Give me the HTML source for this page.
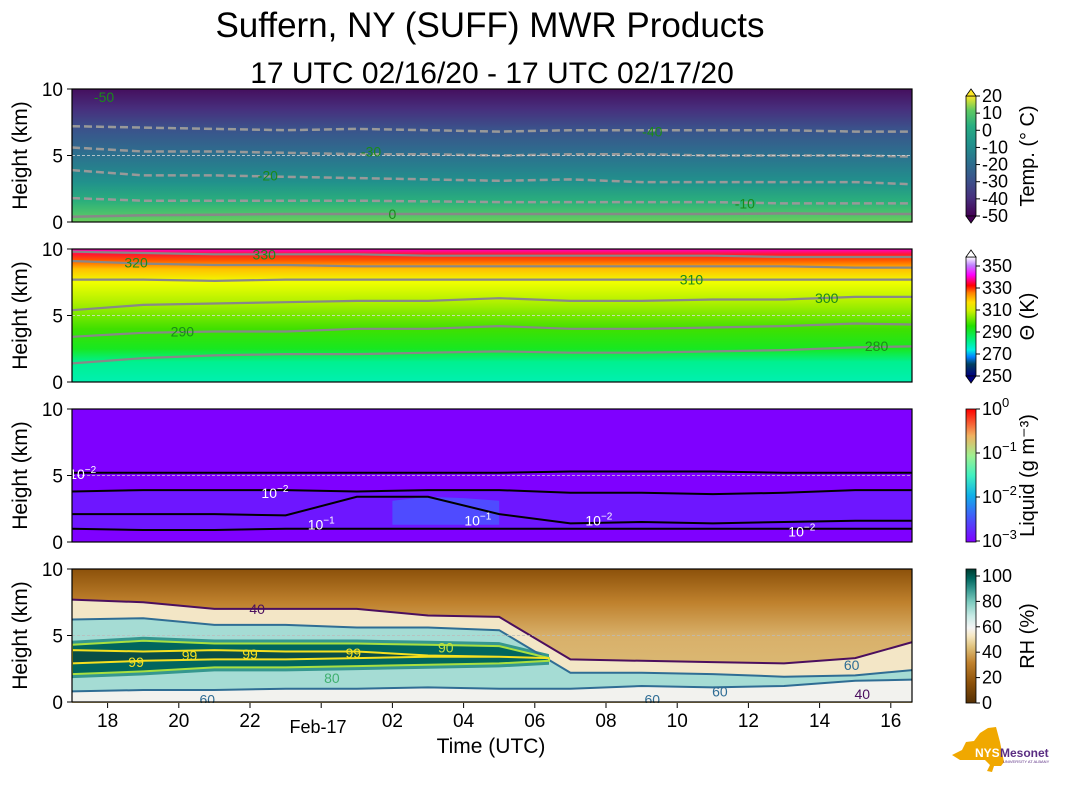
<!DOCTYPE html>
<html><head><meta charset="utf-8">
<style>
html,body{margin:0;padding:0;background:#fff;}
svg{display:block;font-family:"Liberation Sans","DejaVu Sans",sans-serif;}
</style></head>
<body>
<svg id="fig" width="1066" height="806" viewBox="0 0 1066 806" xmlns="http://www.w3.org/2000/svg">
<defs>
<linearGradient id="gTemp" x1="0" y1="1" x2="0" y2="0">
<stop offset="0" stop-color="#6ccd5a"/><stop offset="0.06" stop-color="#4ec36b"/><stop offset="0.16" stop-color="#2aae7c"/>
<stop offset="0.3" stop-color="#21918c"/><stop offset="0.5" stop-color="#2c718e"/><stop offset="0.7" stop-color="#3b528b"/>
<stop offset="0.85" stop-color="#472f7d"/><stop offset="1" stop-color="#450f5e"/></linearGradient>
<linearGradient id="gTheta" x1="0" y1="1" x2="0" y2="0">
<stop offset="0" stop-color="#00f0b0"/><stop offset="0.15" stop-color="#00f090"/><stop offset="0.25" stop-color="#18e820"/>
<stop offset="0.4" stop-color="#40e000"/><stop offset="0.6" stop-color="#b0f000"/><stop offset="0.75" stop-color="#f0ff00"/>
<stop offset="0.85" stop-color="#ffc000"/><stop offset="0.92" stop-color="#ff5000"/><stop offset="0.96" stop-color="#ff1830"/><stop offset="1" stop-color="#ff00d0"/></linearGradient>
<linearGradient id="gRH" x1="0" y1="1" x2="0" y2="0">
<stop offset="0" stop-color="#dfc27d"/><stop offset="0.5" stop-color="#d8b06a"/><stop offset="0.75" stop-color="#bf812d"/><stop offset="1" stop-color="#8c510a"/></linearGradient>
<linearGradient id="cbTemp" x1="0" y1="1" x2="0" y2="0">
<stop offset="0" stop-color="#440154"/><stop offset="0.15" stop-color="#472f7d"/><stop offset="0.3" stop-color="#3b528b"/><stop offset="0.45" stop-color="#2c718e"/>
<stop offset="0.6" stop-color="#21918c"/><stop offset="0.75" stop-color="#27ad81"/><stop offset="0.88" stop-color="#5ec962"/><stop offset="1" stop-color="#fde725"/></linearGradient>
<linearGradient id="cbTheta" x1="0" y1="1" x2="0" y2="0">
<stop offset="0" stop-color="#000080"/><stop offset="0.1" stop-color="#004060"/><stop offset="0.16" stop-color="#0080ff"/><stop offset="0.22" stop-color="#00f0e0"/>
<stop offset="0.3" stop-color="#00f080"/><stop offset="0.42" stop-color="#20e000"/><stop offset="0.55" stop-color="#d0f000"/><stop offset="0.62" stop-color="#ffe000"/>
<stop offset="0.7" stop-color="#ff8000"/><stop offset="0.76" stop-color="#ff0000"/><stop offset="0.85" stop-color="#ff00ff"/><stop offset="0.93" stop-color="#c080ff"/><stop offset="1" stop-color="#ffffff"/></linearGradient>
<linearGradient id="cbLiq" x1="0" y1="1" x2="0" y2="0">
<stop offset="0" stop-color="#8000ff"/><stop offset="0.2" stop-color="#4060f8"/><stop offset="0.35" stop-color="#10b0e8"/><stop offset="0.5" stop-color="#40f0c0"/>
<stop offset="0.65" stop-color="#a0f090"/><stop offset="0.8" stop-color="#f0b060"/><stop offset="1" stop-color="#ff0000"/></linearGradient>
<linearGradient id="cbRH" x1="0" y1="1" x2="0" y2="0">
<stop offset="0" stop-color="#543005"/><stop offset="0.15" stop-color="#8c510a"/><stop offset="0.3" stop-color="#bf812d"/><stop offset="0.42" stop-color="#dfc27d"/>
<stop offset="0.5" stop-color="#f6e8c3"/><stop offset="0.56" stop-color="#f5f5f5"/><stop offset="0.65" stop-color="#c7eae5"/><stop offset="0.75" stop-color="#80cdc1"/>
<stop offset="0.85" stop-color="#35978f"/><stop offset="0.93" stop-color="#01665e"/><stop offset="1" stop-color="#003c30"/></linearGradient>
<clipPath id="c0"><rect x="72" y="89" width="840" height="133"/></clipPath>
<clipPath id="c1"><rect x="72" y="249" width="840" height="133"/></clipPath>
<clipPath id="c2"><rect x="72" y="409" width="840" height="133"/></clipPath>
<clipPath id="c3"><rect x="72" y="569" width="840" height="134"/></clipPath>
</defs>
<text x="490" y="37" font-size="35" text-anchor="middle">Suffern, NY (SUFF) MWR Products</text>
<text x="492" y="83" font-size="30" text-anchor="middle">17 UTC 02/16/20 - 17 UTC 02/17/20</text>
<g id="root"></g>
</svg>
<script>
// ---- data ----
const times = [0,2,4,6,8,10,12,14,16,18,20,22,24]; // hours since 17 UTC
const xTickLabels = ["18","20","22","","02","04","06","08","10","12","14","16"];
const xTickHours = [1,3,5,7,9,11,13,15,17,19,21,23];
const yTicks = [0,5,10];
// temperature contours (km)
const temp0 = [0.4,0.5,0.55,0.6,0.6,0.6,0.6,0.6,0.6,0.6,0.65,0.6,0.6];
const tempM10 = [1.8,1.6,1.6,1.6,1.6,1.55,1.5,1.5,1.5,1.5,1.4,1.4,1.4];
const tempM20 = [3.9,3.5,3.5,3.4,3.3,3.2,3.1,3.2,3.0,3.0,3.0,3.0,2.8];
const tempM30 = [5.6,5.3,5.3,5.2,5.1,5.1,5.0,5.1,5.1,5.0,5.0,5.0,4.9];
const tempM40 = [7.2,7.1,7.0,6.9,7.0,6.9,6.8,6.9,6.9,6.9,6.9,6.8,6.8];
// theta contours (km)
const th280 = [1.4,1.8,2.0,2.1,2.1,2.2,2.3,2.2,2.2,2.3,2.4,2.6,2.7];
const th290 = [3.4,3.7,3.8,3.8,4.0,4.0,4.2,4.0,4.0,4.1,4.2,4.4,4.3];
const th300 = [5.4,5.8,5.9,6.0,6.1,6.1,6.3,6.1,6.1,6.2,6.2,6.4,6.4];
const th310 = [7.7,7.7,7.6,7.7,7.7,7.7,7.7,7.7,7.7,7.7,7.7,7.7,7.7];
const th320 = [9.1,8.9,8.8,8.8,8.7,8.7,8.7,8.7,8.7,8.7,8.7,8.6,8.6];
const th330 = [9.8,9.7,9.6,9.6,9.6,9.5,9.5,9.5,9.5,9.5,9.4,9.4,9.4];
// liquid contours (km)
const liqTop = [5.2,5.2,5.2,5.2,5.2,5.2,5.2,5.3,5.3,5.3,5.2,5.2,5.2];
const liqMid = [3.8,3.9,3.9,3.9,3.8,3.9,3.9,3.7,3.7,3.6,3.7,3.9,3.9];
const liqLow = [2.1,2.1,2.1,2.0,3.4,3.4,2.1,1.4,1.5,1.4,1.5,1.6,1.6];
const liqBase = [1.0,0.9,0.9,1.0,1.0,1.0,1.0,1.0,1.0,1.0,1.0,1.0,1.0];
// RH contours (km)
const rh40 = [7.7,7.5,7.0,7.0,7.0,6.5,6.4,3.2,3.1,3.0,2.9,3.3,4.8];
const rh60 = [6.2,6.3,5.8,5.8,5.6,5.6,5.4,2.2,2.2,2.1,1.9,2.0,2.5];
const rh60low = [0.8,0.9,0.9,1.0,1.0,1.1,1.0,1.0,1.2,1.1,1.2,1.6,1.7];
const coreTimes = [0,2,4,6,8,10,12,13.4];
const rh90up = [4.3,4.6,4.4,4.4,4.4,4.3,4.2,3.3];
const rh90low = [2.1,2.3,2.6,2.6,2.7,2.8,2.9,3.1];
const rh99up = [3.9,3.8,3.9,3.8,3.8,3.5,3.4,3.3];
const rh99low = [2.9,3.1,3.2,3.2,3.3,3.4,3.4,3.3];

// ---- axes ----
const X0=72, PW=840, PXH=35.6;
const tops=[89,249,409,569], PH=133;
function x(t){return X0+t*PXH;}
function y(p,h){return tops[p]+(10-h)*PH/10;}
const NS="http://www.w3.org/2000/svg";
const root=document.getElementById('root');
function el(tag,attrs,parent){const e=document.createElementNS(NS,tag);for(const k in attrs)e.setAttribute(k,attrs[k]);(parent||root).appendChild(e);return e;}
function pts(p,ts,hs){return ts.map((t,i)=>x(t).toFixed(1)+','+y(p,hs[i]).toFixed(1)).join(' ');}
function band(p,ts,up,low){return pts(p,ts,up)+' '+pts(p,ts.slice().reverse(),low.slice().reverse());}
function line(g,p,ts,hs,color,w,dash){const l=el('polyline',{points:pts(p,ts,hs),fill:'none',stroke:color,'stroke-width':w},g);if(dash)l.setAttribute('stroke-dasharray',dash);return l;}
function label(g,tx,hy,p,txt,color,sup){const t=el('text',{x:x(tx),y:y(p,hy)+5,'font-size':14,fill:color,'text-anchor':'middle'},g);t.textContent=txt;
 if(sup){const s=el('tspan',{dy:-6,'font-size':10},t);s.textContent=sup;}return t;}

// panel 0 temp
let g=el('g',{'clip-path':'url(#c0)'});
el('rect',{x:X0,y:tops[0],width:PW,height:PH,fill:'url(#gTemp)'},g);
line(g,0,times,temp0,'#888',2.5);
[tempM10,tempM20,tempM30,tempM40].forEach(a=>line(g,0,times,a,'#999',2.5,'8,4'));
el('line',{x1:X0,x2:X0+PW,y1:y(0,5),y2:y(0,5),stroke:'#ddd','stroke-width':0.8,'stroke-dasharray':'3,2'},g);
label(g,0.9,9.4,0,'-50','#1a8a1a');label(g,5.5,3.5,0,'-20','#1a8a1a');label(g,8.4,5.3,0,'-30','#1a8a1a');
label(g,9,0.6,0,'0','#1a8a1a');label(g,16.3,6.8,0,'-40','#1a8a1a');label(g,18.9,1.4,0,'-10','#1a8a1a');
// panel 1 theta
g=el('g',{'clip-path':'url(#c1)'});
el('rect',{x:X0,y:tops[1],width:PW,height:PH,fill:'url(#gTheta)'},g);
[th280,th290,th300,th310,th320,th330].forEach(a=>line(g,1,times,a,'#888',2.2));
el('line',{x1:X0,x2:X0+PW,y1:y(1,5),y2:y(1,5),stroke:'#ddd','stroke-width':0.8,'stroke-dasharray':'3,2'},g);
label(g,1.8,9.0,1,'320','#1a8a1a');label(g,3.1,3.8,1,'290','#1a8a1a');label(g,5.4,9.6,1,'330','#1a8a1a');
label(g,17.4,7.7,1,'310','#1a8a1a');label(g,21.2,6.3,1,'300','#1a8a1a');label(g,22.6,2.7,1,'280','#1a8a1a');
// panel 2 liquid
g=el('g',{'clip-path':'url(#c2)'});
el('rect',{x:X0,y:tops[2],width:PW,height:PH,fill:'#7f00ff'},g);
el('polygon',{points:band(2,times,liqMid,liqBase),fill:'#5a30ff',opacity:0.45},g);
el('polygon',{points:band(2,[9,10,11,12],[3.1,3.4,3.3,3.1],[1.3,1.3,1.3,1.3]),fill:'#3a70ff',opacity:0.6},g);
[liqTop,liqMid,liqLow,liqBase].forEach(a=>line(g,2,times,a,'#000',2));
el('line',{x1:X0,x2:X0+PW,y1:y(2,5),y2:y(2,5),stroke:'#ccc','stroke-width':0.8,'stroke-dasharray':'3,2'},g);
label(g,0.3,5.1,2,'10','#fff','−2');label(g,5.7,3.7,2,'10','#fff','−2');label(g,7,1.3,2,'10','#fff','−1');
label(g,11.4,1.6,2,'10','#fff','−1');label(g,14.8,1.6,2,'10','#fff','−2');label(g,20.5,0.8,2,'10','#fff','−2');
// panel 3 RH
g=el('g',{'clip-path':'url(#c3)'});
el('rect',{x:X0,y:tops[3],width:PW,height:PH+1,fill:'url(#gRH)'},g);
const zeros=times.map(()=>0);
el('polygon',{points:band(3,times,rh40,zeros),fill:'#f3e6c6'},g);
el('polygon',{points:band(3,times,rh60,zeros),fill:'#f2f2ee'},g);
el('polygon',{points:band(3,times,rh60,rh60low),fill:'#a5dcd4'},g);
el('polygon',{points:band(3,coreTimes,rh90up.map(v=>v+0.3),rh90low.map(v=>v-0.3)),fill:'#35978f'},g);
el('polygon',{points:band(3,coreTimes,rh90up,rh90low),fill:'#01665e'},g);
el('polygon',{points:band(3,coreTimes,rh99up,rh99low),fill:'#0a4e45'},g);
line(g,3,times,rh40,'#4b0f5e',2);line(g,3,times,rh60,'#2f6d94',2);line(g,3,times,rh60low,'#2f6d94',2);
el('polygon',{points:band(3,coreTimes,rh90up,rh90low),fill:'none',stroke:'#a8e040','stroke-width':2},g);
el('polygon',{points:band(3,coreTimes,rh99up,rh99low),fill:'none',stroke:'#f5e020','stroke-width':2},g);
el('line',{x1:X0,x2:X0+PW,y1:y(3,5),y2:y(3,5),stroke:'#bbb','stroke-width':0.8,'stroke-dasharray':'3,2'},g);
label(g,5.2,7.0,3,'40','#4b0f5e');label(g,1.8,3.0,3,'99','#f5e020');label(g,3.3,3.5,3,'99','#f5e020');
label(g,5,3.6,3,'99','#f5e020');label(g,7.9,3.7,3,'99','#f5e020');label(g,10.5,4.1,3,'90','#c0e040');
label(g,7.3,1.8,3,'80','#40b070');label(g,3.8,0.2,3,'60','#2f6d94');label(g,21.9,2.8,3,'60','#2f6d94');
label(g,18.2,0.8,3,'60','#2f6d94');label(g,16.3,0.2,3,'60','#2f6d94');label(g,22.2,0.6,3,'40','#4b0f5e');

// frames and y-axes
const ynames=['temp','theta','liquid','rh'];
for(let p=0;p<4;p++){
 const f=el('rect',{x:X0,y:tops[p],width:PW,height:PH,fill:'none',stroke:'#000','stroke-width':1.2});
 
 yTicks.forEach(v=>{el('line',{x1:X0-5,x2:X0,y1:y(p,v),y2:y(p,v),stroke:'#000'});
  const t=el('text',{x:X0-9,y:y(p,v)+7,'font-size':19,'text-anchor':'end'});t.textContent=v;
  });
 const yl=el('text',{x:27,y:tops[p]+PH/2,'font-size':21,'text-anchor':'middle',transform:`rotate(-90 27 ${tops[p]+PH/2})`});
 yl.textContent='Height (km)';
}
// x ticks
xTickHours.forEach((h,i)=>{el('line',{x1:x(h),x2:x(h),y1:703,y2:708,stroke:'#000'});
 const t=el('text',{x:x(h),y:727,'font-size':19,'text-anchor':'middle'});t.textContent=xTickLabels[i];
 });
let t=el('text',{x:318,y:733,'font-size':18,'text-anchor':'middle'});t.textContent='Feb-17';

t=el('text',{x:491,y:753,'font-size':21,'text-anchor':'middle'});t.textContent='Time (UTC)';


// colorbars
const CBX=966,CBW=10;
function cbar(name,y0,y1,fill,ticks,labelText,ext){
 const gg=el('g',{});
 el('rect',{x:CBX,y:y0,width:CBW,height:y1-y0,fill:fill,stroke:'#000','stroke-width':0.8},gg);
 if(ext){el('polygon',{points:`${CBX},${y0} ${CBX+CBW/2},${y0-7} ${CBX+CBW},${y0}`,fill:ext[0],stroke:'#000','stroke-width':0.8},gg);
  el('polygon',{points:`${CBX},${y1} ${CBX+CBW/2},${y1+7} ${CBX+CBW},${y1}`,fill:ext[1],stroke:'#000','stroke-width':0.8},gg);}
 ticks.forEach(tk=>{const yy=tk[1];el('line',{x1:CBX+CBW,x2:CBX+CBW+4,y1:yy,y2:yy,stroke:'#000'},gg);
  const tt=el('text',{x:CBX+CBW+6,y:yy+6,'font-size':18},gg);
  if(tk[2]){tt.textContent=tk[0];const s=el('tspan',{dy:-8,'font-size':13},tt);s.textContent=tk[2];}else tt.textContent=tk[0];});
 const cy=(y0+y1)/2;const lt=el('text',{x:1034,y:cy,'font-size':20,'text-anchor':'middle',transform:`rotate(-90 1034 ${cy})`},gg);
 lt.textContent=labelText;return gg;}
const tempTicks=['20','10','0','-10','-20','-30','-40','-50'];
cbar('temperature-colorbar',96,216,'url(#cbTemp)',tempTicks.map((s,i)=>[s,96+i*120/7]),'Temp. (° C)',['#fde725','#440154']);
const thTicks=['350','330','310','290','270','250'];
cbar('theta-colorbar',257,376,'url(#cbTheta)',thTicks.map((s,i)=>[s,266+i*22]),'Θ (K)',['#ffffff','#000080']);
cbar('liquid-colorbar',409,542,'url(#cbLiq)',[['10','409','0'],['10','453','−1'],['10','497','−2'],['10','541','−3']].map(a=>[a[0],+a[1],a[2]]),'Liquid (g m⁻³)',null);
const rhTicks=['100','80','60','40','20','0'];
cbar('rh-colorbar',569,703,'url(#cbRH)',rhTicks.map((s,i)=>[s,576+i*25.4]),'RH (%)',null);

// logo
const lg=el('g',{});
el('polygon',{points:'952,755 962,750 966,742 974,741 980,733 988,728 996,727 1000,742 1004,762 1001,766 994,766 992,772 987,771 990,765 985,760 960,760',fill:'#f0a800'},lg);
let lt1=el('text',{x:975,y:757,'font-size':12,'font-weight':'bold',fill:'#fff'},lg);lt1.textContent='NYS';
let lt2=el('text',{x:1000,y:757,'font-size':12,'font-weight':'bold',fill:'#5a2d82'},lg);lt2.textContent='Mesonet';
let lt3=el('text',{x:1003,y:763,'font-size':4,fill:'#5a2d82'},lg);lt3.textContent='UNIVERSITY AT ALBANY';
</script>
</body></html>
